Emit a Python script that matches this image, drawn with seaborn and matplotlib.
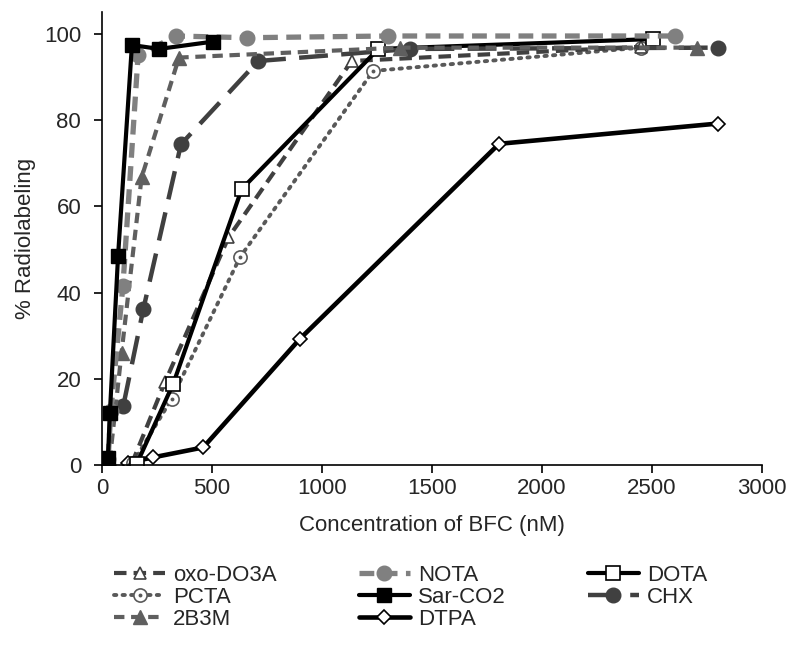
import matplotlib
matplotlib.use("Agg")
import matplotlib.pyplot as plt
import seaborn as sns
import pandas as pd

sns.set_theme(style="ticks")
plt.rcParams['font.family'] = ['Liberation Sans', 'DejaVu Sans']

# ---- data ----
oxo_x = [135, 286, 575, 1135, 2450]
oxo_y = [0.3, 19.2, 52.8, 93.7, 97.0]

pcta_x = [140, 317, 627, 1233, 2449]
pcta_y = [0.5, 15.4, 48.2, 91.4, 96.8]

b3m_x = [35, 89, 180, 350, 1355, 2705]
b3m_y = [1.0, 26.1, 66.7, 94.5, 96.8, 96.8]

nota_x = [28, 40, 95, 164, 336, 658, 1300, 2605]
nota_y = [1.5, 12.5, 41.5, 95.0, 99.5, 99.1, 99.5, 99.5]

sar_x = [27, 36, 73, 136, 260, 505]
sar_y = [1.7, 12.2, 48.5, 97.4, 96.5, 98.2]

dtpa_x = [120, 233, 460, 900, 1805, 2800]
dtpa_y = [0.6, 1.8, 4.1, 29.3, 74.5, 79.2]

dota_x = [158, 324, 635, 1256, 2505]
dota_y = [0.3, 18.9, 64.0, 96.5, 98.8]

chx_x = [97, 188, 359, 710, 1400, 2800]
chx_y = [13.8, 36.2, 74.4, 93.7, 96.5, 96.8]

x_ticks = [0, 500, 1000, 1500, 2000, 2500, 3000]
y_ticks = [0, 20, 40, 60, 80, 100]

FS = 16

fig = plt.figure(figsize=(8.0, 6.46), dpi=100)
ax = fig.add_axes([0.1275, 0.28, 0.825, 0.701])

series = {
    "oxo-DO3A": dict(x=oxo_x, y=oxo_y, color="#404040", ls=(0, (3, 1.7)), lw=3.0,
                     marker="^", ms=8.5, mfc="white", mec="#404040", mew=1.2),
    "PCTA": dict(x=pcta_x, y=pcta_y, color="#595959", ls=(0, (0.6, 1.6)), lw=2.8,
                 marker="o", ms=9.5, mfc="white", mec="#595959", mew=1.2, dash_capstyle="round"),
    "2B3M": dict(x=b3m_x, y=b3m_y, color="#5f5f5f", ls=(0, (2.5, 1.6)), lw=3.0,
                 marker="^", ms=9.5, mfc="#5f5f5f", mec="#5f5f5f", mew=1.0),
    "NOTA": dict(x=nota_x, y=nota_y, color="#808080", ls=(0, (2.8, 1.6)), lw=3.8,
                 marker="o", ms=10.5, mfc="#808080", mec="#808080", mew=1.0),
    "Sar-CO2": dict(x=sar_x, y=sar_y, color="black", ls="-", lw=3.0,
                    marker="s", ms=9.5, mfc="black", mec="black", mew=1.0),
    "DTPA": dict(x=dtpa_x, y=dtpa_y, color="black", ls="-", lw=3.3,
                 marker="D", ms=7, mfc="white", mec="black", mew=1.2),
    "DOTA": dict(x=dota_x, y=dota_y, color="black", ls="-", lw=3.0,
                 marker="s", ms=9.5, mfc="white", mec="black", mew=1.2),
    "CHX": dict(x=chx_x, y=chx_y, color="#404040", ls=(0, (6.5, 3)), lw=3.2,
                marker="o", ms=10.5, mfc="#404040", mec="#404040", mew=1.0),
}

draw_order = ["DTPA", "PCTA", "oxo-DO3A", "DOTA", "CHX", "2B3M", "NOTA", "Sar-CO2"]
handles = {}
for name in draw_order:
    s = dict(series[name])
    xs = s.pop("x"); ys = s.pop("y")
    df = pd.DataFrame({"x": xs, "y": ys})
    sns.lineplot(data=df, x="x", y="y", ax=ax, estimator=None, sort=False,
                 color=s.pop("color"), linestyle=s.pop("ls"), linewidth=s.pop("lw"),
                 marker=s.pop("marker"), markersize=s.pop("ms"),
                 markerfacecolor=s.pop("mfc"), markeredgecolor=s.pop("mec"),
                 markeredgewidth=s.pop("mew"), label=name, **s)
    handles[name] = ax.lines[-1]
    if name == "PCTA":
        # centre dot of the PCTA marker
        sns.lineplot(data=df, x="x", y="y", ax=ax, estimator=None, sort=False,
                     color="#595959", linestyle="none", marker="o", markersize=2.8,
                     markeredgewidth=0)
        handles[name] = (handles[name], ax.lines[-1])

ax.set_xlim(0, 3000)
ax.set_ylim(0, 105)
ax.set_xticks(x_ticks)
ax.set_yticks(y_ticks)
ax.tick_params(axis="both", labelsize=FS, length=6, width=1.2, color="black",
               direction="out")
ax.tick_params(axis="x", pad=3)
ax.tick_params(axis="y", pad=9)
for sp in ["top", "right"]:
    ax.spines[sp].set_visible(False)
for sp in ["left", "bottom"]:
    ax.spines[sp].set_linewidth(1.2)
    ax.spines[sp].set_color("black")

ax.set_xlabel("Concentration of BFC (nM)", fontsize=FS, labelpad=12)
ax.set_ylabel("% Radiolabeling", fontsize=FS, labelpad=6)

legend_order = ["oxo-DO3A", "PCTA", "2B3M", "NOTA", "Sar-CO2", "DTPA", "DOTA", "CHX"]
ax.legend([handles[n] for n in legend_order], legend_order,
          loc="upper left", bbox_to_anchor=(0.005, -0.20), ncol=3,
          frameon=False, fontsize=FS, handlelength=2.3, handletextpad=0.35,
          columnspacing=3.7, labelspacing=0.05, borderaxespad=0)

fig.savefig("out.png", dpi=100, facecolor="white")
